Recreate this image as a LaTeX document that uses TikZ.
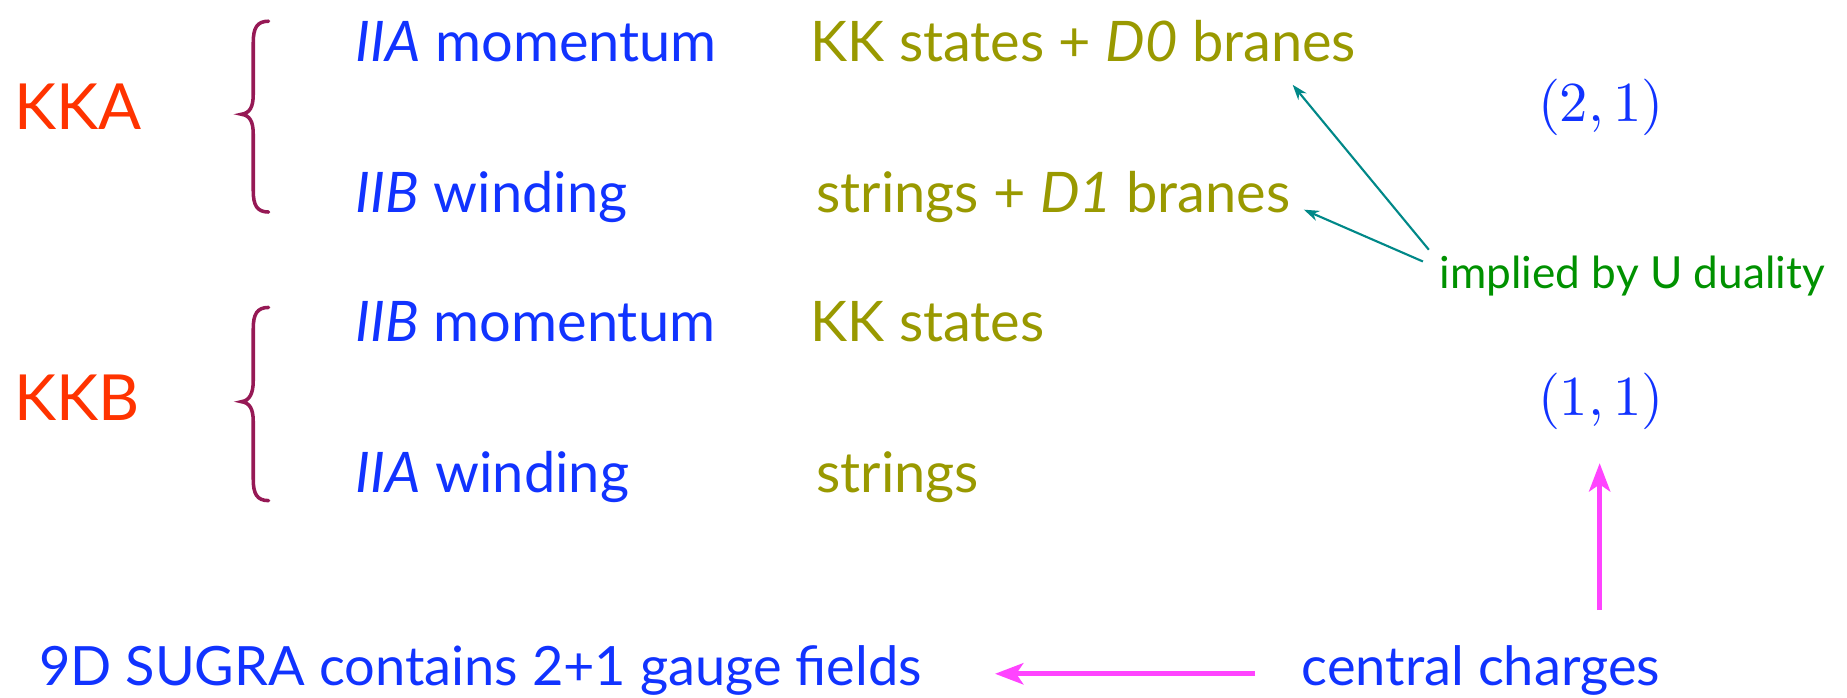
\documentclass[tikz,border=0pt]{standalone}
\usepackage{fontspec}
\setmainfont{Lato}
\usetikzlibrary{arrows.meta}
\definecolor{kkred}{RGB}{255,51,0}
\definecolor{kkblue}{RGB}{17,51,255}
\definecolor{kkolive}{RGB}{153,153,0}
\definecolor{kkbrace}{RGB}{150,25,85}
\definecolor{kkteal}{RGB}{0,136,136}
\definecolor{kkgreen}{RGB}{0,145,0}
\definecolor{kkpink}{RGB}{255,68,255}
\begin{document}
\begin{tikzpicture}[x=1pt,y=-1pt,
  txt/.style={inner sep=0pt, anchor=base west, font=\fontsize{47.5}{52}\selectfont},
  lbl/.style={txt, text=kkred, font=\fontsize{54}{58}\selectfont},
  typ/.style={txt, text=kkblue},
  obj/.style={txt, text=kkolive},
  bottom/.style={txt, text=kkblue, font=\fontsize{46}{50}\selectfont},
  charge/.style={inner sep=0pt, text=kkblue},
  note/.style={inner sep=0pt, anchor=base west, text=kkgreen, font=\fontsize{37.5}{40}\selectfont},
  tealarrow/.style={draw=kkteal, line width=1.8pt, -{Stealth[length=13pt,width=9pt]}},
  pinkarrow/.style={draw=kkpink, line width=4pt, -{Stealth[length=24pt,width=18pt,inset=6pt]}},
  curly/.style={draw=kkbrace, line width=3pt, line cap=round}
]
\useasboundingbox (0,0) rectangle (1568,592);

% braces
\draw[curly] (228,18) .. controls (218,18) and (215,24) .. (215,36) -- (215,80)
  .. controls (215,91) and (212,96) .. (205,97) .. controls (212,98) and (215,103) .. (215,114)
  -- (215,162) .. controls (215,174) and (218,180) .. (228,180);
\draw[curly] (228,261) .. controls (218,261) and (215,267) .. (215,279) -- (215,323)
  .. controls (215,334) and (212,340) .. (205,341) .. controls (212,342) and (215,347) .. (215,358)
  -- (215,407) .. controls (215,419) and (218,425) .. (228,425);

% labels
\node[lbl] (kka) at (12,110) {KKA};
\node[lbl] (kkb) at (12,357) {KKB};

\node[typ] (iiam) at (302,52) {\textit{IIA} momentum};
\node[typ] (iibw) at (302,180) {\textit{IIB} winding};
\node[typ] (iibm) at (302,290) {\textit{IIB} momentum};
\node[typ] (iiaw) at (302,418) {\textit{IIA} winding};

\node[obj] (d0) at (688,52) {KK states + \textit{D0} branes};
\node[obj] (d1) at (693,180) {strings + \textit{D1} branes};
\node[obj] (kks) at (688,290) {KK states};
\node[obj] (str) at (693,418) {strings};

\node[charge] (p21) at (1359,91) {\scalebox{4.8}{$(2,1)$}};
\node[charge] (p11) at (1359,341) {\scalebox{4.8}{$(1,1)$}};

\node[note] (impl) at (1222,245) {implied by U duality};

\node[bottom] (sugra) at (33,582) {9D SUGRA contains 2+1 gauge fields};
\node[bottom] (cc) at (1105,582) {central charges};

% arrows
\draw[tealarrow] ([xshift=-9pt,yshift=33pt]impl.base west) -- ([xshift=-54pt,yshift=-20pt]d0.base east);
\draw[tealarrow] ([xshift=-14pt,yshift=23pt]impl.base west) -- ([xshift=11pt,yshift=2pt]d1.base east);
\coordinate (vstart) at (1358,518);
\coordinate (vend) at ([yshift=-28pt]p11.south);
\draw[pinkarrow] (vstart) -- (vstart |- vend);
\draw[pinkarrow] ([xshift=-40pt,yshift=10pt]cc.base west) -- ([xshift=62pt,yshift=10pt]sugra.base east);
\end{tikzpicture}
\end{document}
